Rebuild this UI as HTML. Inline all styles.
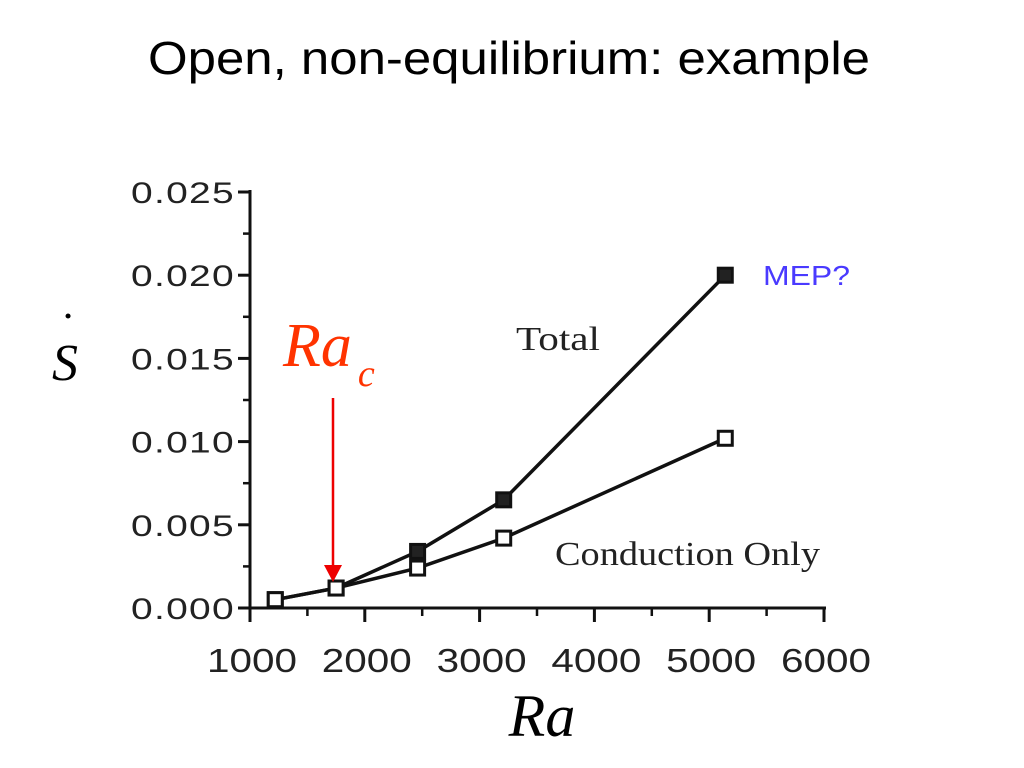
<!DOCTYPE html>
<html><head><meta charset="utf-8"><style>
body{margin:0;background:#fff;width:1024px;height:768px;overflow:hidden}
svg{display:block}
</style></head><body>
<svg width="1024" height="768">
<text x="509" y="74" text-anchor="middle" font-family="Liberation Sans, sans-serif" font-size="46" textLength="722" lengthAdjust="spacingAndGlyphs">Open, non-equilibrium: example</text>
<g id="axes"></g>
<g id="plot"></g>
<text x="65" y="380" text-anchor="middle" font-family="Liberation Serif, serif" font-style="italic" font-size="52">S</text>
<text x="68" y="345" text-anchor="middle" font-family="Liberation Serif, serif" font-size="48">˙</text>
<text x="542" y="736" text-anchor="middle" font-family="Liberation Serif, serif" font-style="italic" font-size="60">Ra</text>
<text x="283" y="366" font-family="Liberation Serif, serif" font-style="italic" font-size="62" fill="#ff3300">Ra<tspan font-size="38" dx="6" dy="20">c</tspan></text>
<line x1="333" y1="398" x2="333" y2="570" stroke="#e00" stroke-width="2.5"/>
<polygon points="324,565 342,565 333,582" fill="#e00"/>
<text x="516" y="350" font-family="Liberation Serif, serif" font-size="34" fill="#222" textLength="84" lengthAdjust="spacingAndGlyphs">Total</text>
<text x="555" y="565" font-family="Liberation Serif, serif" font-size="34" fill="#222" textLength="265" lengthAdjust="spacingAndGlyphs">Conduction Only</text>
<text x="763" y="285" font-family="Liberation Sans, sans-serif" font-size="28" fill="#4a3aff" textLength="87" lengthAdjust="spacingAndGlyphs">MEP?</text>
</svg>
<script>
const xVals=[1220,1750,2460,3210,5140];
const totalVals=[0.0005,0.0012,0.0034,0.0065,0.0200];
const condVals=[0.0005,0.0012,0.0024,0.0042,0.0102];
const yTicks=[0,0.005,0.010,0.015,0.020,0.025];
const yTickLabels=["0.000","0.005","0.010","0.015","0.020","0.025"];
const xTicks=[1000,2000,3000,4000,5000,6000];
const xTickLabels=["1000","2000","3000","4000","5000","6000"];
const X=v=>250+(v-1000)*0.1148;
const Y=v=>608-v*16640;
const NS="http://www.w3.org/2000/svg";
const axes=document.getElementById('axes'),plot=document.getElementById('plot');
function mk(t,a,p){const e=document.createElementNS(NS,t);for(const k in a)e.setAttribute(k,a[k]);p.appendChild(e);return e;}
let l=mk('line',{x1:X(1000),y1:Y(0.025)-2,x2:X(1000),y2:Y(0)+2,stroke:'#111','stroke-width':3},axes);


l=mk('line',{x1:X(1000)-2,y1:Y(0),x2:X(6000)+2,y2:Y(0),stroke:'#111','stroke-width':3},axes);


yTicks.forEach((v,i)=>{
 const t=mk('line',{x1:X(1000)-12,y1:Y(v),x2:X(1000),y2:Y(v),stroke:'#111','stroke-width':3},axes);
 
 
 if(i<yTicks.length-1){const m=mk('line',{x1:X(1000)-7,y1:Y(v+0.0025),x2:X(1000),y2:Y(v+0.0025),stroke:'#111','stroke-width':2.5},axes);
 
 }
 const tx=mk('text',{x:X(1000)-15,y:Y(v)+11,'text-anchor':'end','font-family':'Liberation Sans, sans-serif','font-size':30,'letter-spacing':'1',fill:'#222',textLength:104,lengthAdjust:'spacingAndGlyphs'},axes);
 tx.textContent=yTickLabels[i];
 
 
});
xTicks.forEach((v,i)=>{
 const t=mk('line',{x1:X(v),y1:Y(0),x2:X(v),y2:Y(0)+14,stroke:'#111','stroke-width':3},axes);
 
 
 if(i<xTicks.length-1){const m=mk('line',{x1:X(v+500),y1:Y(0),x2:X(v+500),y2:Y(0)+8,stroke:'#111','stroke-width':2.5},axes);
 
 }
 const tx=mk('text',{x:X(v)+2,y:Y(0)+64,'text-anchor':'middle','font-family':'Liberation Sans, sans-serif','font-size':33,fill:'#222',textLength:90,lengthAdjust:'spacingAndGlyphs'},axes);
 tx.textContent=xTickLabels[i];
 
 
});
function series(vals,filled,name){
 const p=mk('polyline',{points:xVals.map((x,i)=>X(x)+','+Y(vals[i])).join(' '),fill:'none',stroke:'#111','stroke-width':3.5},plot);
 
 
 xVals.forEach((x,i)=>{
  const r=mk('rect',{x:X(x)-7,y:Y(vals[i])-7,width:14,height:14,fill:filled?'#222':'#fff',stroke:'#111','stroke-width':3},plot);
  
  
 });
}
series(totalVals,true,'total');
series(condVals,false,'conduction');
</script>
</body></html>
